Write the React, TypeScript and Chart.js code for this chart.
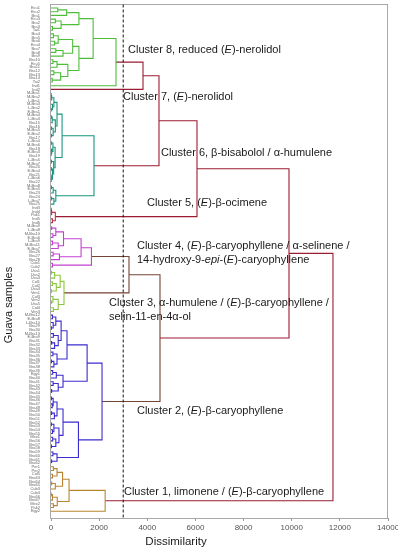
import React, { useEffect, useRef } from "react";
import { Chart, registerables } from "chart.js";

Chart.register(...registerables);

type Node = number | [number, Node, Node];

// ---------- leaf (sample) labels, top to bottom ----------
const labelsC8 = ["Ecu1","Ecu2","Bra1","Ecu3","Bra2","Bra3","Tai1","Bra4","Bra5","Bra6","Ecu4","Bra7","Bra8","Bra9","Bra10","Ecu5","Bra11","Bra12","Bra13","Bra14","Tai2","Ind1"];
const labelsC7 = ["Ind2"];
const labelsC6 = ["M-Bra1","M-Bra2","L-Bra1","M-Bra3","L-Bra2","E-Bra1","M-Bra4","L-Bra3","Bra15","Bra16","M-Bra5","E-Bra2","Bra17","L-Bra4","M-Bra6","Bra18","E-Bra3","Bra19","L-Bra5","M-Bra7","Bra20","E-Bra4","Bra21","L-Bra6","Bra22","M-Bra8","E-Bra5","Bra23","Bra24","L-Bra7","Bra25"];
const labelsC5 = ["Ind3","Ind4","Pak1","Ind5","Ind6"];
const labelsC4 = ["M-Bra9","L-Bra8","M-Bra10","E-Bra6","L-Bra9","M-Bra11","E-Bra7","Bra26","Bra27","Bra28","Cub1","Cub2"];
const labelsC3 = ["Usa1","Usa2","Usa3","Col1","Col2","Usa4","Ven1","Col3","Ven2","Usa5","Col4","Ven3"];
const labelsC2 = ["M-Bra12","E-Bra8","L-Bra10","Bra29","Bra30","M-Bra13","E-Bra9","Bra31","Bra32","Bra33","Bra34","Bra35","Bra36","Bra37","Bra38","Bra39","Egy1","Bra40","Bra41","Bra42","Bra43","Bra44","Bra45","Bra46","Bra47","Bra48","Bra49","Bra50","Bra51","Bra52","Bra53","Bra54","Bra55","Mex1","Bra56","Bra57","Bra58","Bra59","Bra60","Bra61","Bra62"];
const labelsC1 = ["Per1","Per2","Col5","Bra63","Bra64","Bra65","Cub3","Cub4","Bra66","Bra67","Mex2","Pak2","Egy2"];

const leafLabels = [
  ...labelsC8, ...labelsC7, ...labelsC6, ...labelsC5,
  ...labelsC4, ...labelsC3, ...labelsC2, ...labelsC1,
];

// ---------- cluster trees: [dissimilarity, left, right]; numbers are leaf indices ----------
const cluster8: Node = [2700,
  [1750,
    [1160, [650, [280, 0, 1], 2], [420, [180, 3, 4], [60, 5, 6]]],
    [1160,
      [900, [300, [100, 7, 8], [150, 9, 10]], [500, [200, 11, 12], 13]],
      [700, [250, [80, 14, 15], 16], [400, [120, 17, 18], [50, 19, 20]]]]],
  21];
const cluster7: Node = 22;
const cluster6: Node = [1786,
  [460,
    [250, [120, [40, [10, 23, 24], 25], [60, 26, [15, 27, 28]]], [180, [50, [20, 29, 30], 31], [90, [30, 32, 33], [25, 34, 35]]]],
    [170, [80, [20, 36, 37], [40, 38, [10, 39, 40]]], [110, [30, 41, 42], [60, [20, 43, 44], [15, [5, 45, 46], 47]]]]],
  [200, [90, [30, 48, 49], 50], [120, [40, 51, 52], 53]]];
const cluster5: Node = [180, [40, [10, 54, 55], 56], [60, 57, 58]];
const cluster4: Node = [1680,
  [1250,
    [520, [200, [40, 59, 60], [80, 61, 62]], [300, [60, 63, 64], 65]],
    [350, [90, 66, 67], 68]],
  [60, 69, 70]];
const cluster3: Node = [540,
  [380, [150, [40, 71, 72], 73], [220, [60, 74, 75], [30, 76, 77]]],
  [300, [80, 78, [20, 79, 80]], [100, 81, 82]]];
const cluster2: Node = [2120,
  [1500,
    [665,
      [420, [200, [60, 83, 84], [90, 85, [20, 86, 87]]], [300, [100, 88, 89], [150, [40, 90, 91], 92]]],
      [250, [80, 93, 94], [120, [30, 95, 96], 97]]],
    [500, [220, [70, 98, 99], 100], [300, [90, 101, 102], [40, 103, 104]]]],
  [1140,
    [500,
      [250, [90, [30, 105, 106], [50, 107, 108]], [140, [40, 109, 110], 111]],
      [330, [120, [20, 112, 113], [60, 114, 115]], [200, [70, 116, 117], [30, 118, 119]]]],
    [250, [80, 120, 121], [40, 122, 123]]]];
const cluster1: Node = [2250,
  [750,
    [480, [250, [100, 124, 125], [60, 126, 127]], [180, [40, 128, 129], 130]],
    [260, [60, [15, 131, 132], 133], [100, 134, 135]]],
  136];

// ---------- joins between clusters (dissimilarity) ----------
const joinC8C7 = 3822;
const joinC6 = 4486;
const joinC5 = 6065;
const joinC4C3 = 3240;
const joinC2 = 4528;
const joinUpperLower = 9887;
const joinRoot = 11714;

const cutLine = 3000;
const xTickValues = [0, 2000, 4000, 6000, 8000, 10000, 12000, 14000];

const clusterNotes: { lines: string[]; x: number; y: number }[] = [
  { lines: ["Cluster 8, reduced (_E_)-nerolidol"], x: 3199, y: 11.35 },
  { lines: ["Cluster 7, (_E_)-nerolidol"], x: 2991, y: 24.05 },
  { lines: ["Cluster 6, β-bisabolol / α-humulene"], x: 4569, y: 39.2 },
  { lines: ["Cluster 5, (_E_)-β-ocimene"], x: 3988, y: 52.7 },
  { lines: ["Cluster 4, (_E_)-β-caryophyllene / α-selinene /", "14-hydroxy-9-_epi_-(_E_)-caryophyllene"], x: 3572, y: 64.3 },
  { lines: ["Cluster 3, α-humulene / (_E_)-β-caryophyllene /", "selin-11-en-4α-ol"], x: 2409, y: 79.7 },
  { lines: ["Cluster 2, (_E_)-β-caryophyllene"], x: 3572, y: 108.9 },
  { lines: ["Cluster 1, limonene / (_E_)-β-caryophyllene"], x: 3032, y: 130.8 },
];

const GREEN = "#4dbd3a";
const TEAL = "#17967f";
const RED = "#9b1d33";
const RED5 = "#c2304a";
const MAGENTA = "#c440d2";
const LIME = "#8dc63f";
const BLUE = "#3b2bd0";
const ORANGE = "#b8862f";
const BROWN = "#744535";
const FONT = '"Liberation Sans", Arial, sans-serif';

export default function App() {
  const ref = useRef<HTMLCanvasElement>(null);

  useEffect(() => {
    if (!ref.current) return;
    const buckets = new Map<string, any[]>();
    const add = (color: string, pts: any[]) => {
      if (!buckets.has(color)) buckets.set(color, []);
      buckets.get(color)!.push(...pts, { x: 0, y: null });
    };
    const link = (H: number, A: { y: number; h: number }, B: { y: number; h: number }, color: string) => {
      add(color, [
        { x: A.h, y: A.y }, { x: H, y: A.y }, { x: H, y: B.y }, { x: B.h, y: B.y },
      ]);
      return { y: (A.y + B.y) / 2, h: H };
    };
    const tree = (node: Node, color: string): { y: number; h: number } => {
      if (typeof node === "number") return { y: node, h: 0 };
      const [H, a, b] = node;
      return link(H, tree(a, color), tree(b, color), color);
    };

    const p8 = tree(cluster8, GREEN);
    const p7 = tree(cluster7, RED);
    const p6 = tree(cluster6, TEAL);
    const p5 = tree(cluster5, RED5);
    const p4 = tree(cluster4, MAGENTA);
    const p3 = tree(cluster3, LIME);
    const p2 = tree(cluster2, BLUE);
    const p1 = tree(cluster1, ORANGE);
    const w = link(joinC8C7, p8, p7, RED);
    const v = link(joinC6, w, p6, RED);
    const u = link(joinC5, v, p5, RED);
    const m = link(joinC4C3, p4, p3, BROWN);
    const l = link(joinC2, m, p2, BROWN);
    const xnode = link(joinUpperLower, u, l, RED);
    link(joinRoot, xnode, p1, RED);

    const datasets: any[] = [
      {
        data: [{ x: cutLine, y: -5 }, { x: cutLine, y: 145 }],
        borderColor: "#111", borderWidth: 1, borderDash: [3, 2],
        showLine: true, pointRadius: 0,
      },
    ];
    buckets.forEach((pts, color) => {
      datasets.push({
        data: pts, borderColor: color, borderWidth: 1.1, showLine: true,
        pointRadius: 0, spanGaps: false, fill: false,
      });
    });

    const annot = {
      id: "annot",
      beforeDatasetsDraw(chart: any) {
        const { ctx, chartArea: a } = chart;
        ctx.save();
        ctx.strokeStyle = "#a8a8a8";
        ctx.lineWidth = 1;
        ctx.strokeRect(Math.round(a.left) - 0.5, Math.round(a.top) + 0.5, Math.round(a.right - a.left), Math.round(a.bottom - a.top));
        ctx.restore();
      },
      afterDraw(chart: any) {
        const { ctx, scales } = chart;
        ctx.save();
        ctx.fillStyle = "#1a1a1a";
        ctx.textBaseline = "middle";
        ctx.textAlign = "left";
        const size = 11;
        clusterNotes.forEach((n) => {
          const x0 = scales.x.getPixelForValue(n.x);
          const y0 = scales.y.getPixelForValue(n.y);
          n.lines.forEach((line, li) => {
            let cx = x0;
            const cy = y0 + li * 14.5;
            line.split("_").forEach((part, i) => {
              ctx.font = `${i % 2 ? "italic " : ""}${size}px ${FONT}`;
              ctx.fillText(part, cx, cy);
              cx += ctx.measureText(part).width;
            });
          });
        });
        // axis titles
        ctx.font = `11.5px ${FONT}`;
        ctx.textAlign = "center";
        ctx.textBaseline = "alphabetic";
        ctx.fillText("Dissimilarity", 176, 545);
        ctx.translate(12, 305);
        ctx.rotate(-Math.PI / 2);
        ctx.font = `11px ${FONT}`;
        ctx.fillText("Guava samples", 0, 0);
        ctx.restore();
      },
    };

    const chart = new Chart(ref.current, {
      type: "scatter",
      data: { datasets },
      options: {
        responsive: false,
        animation: false,
        layout: { padding: { top: 4, right: 10, left: 0, bottom: 0 } },
        plugins: { legend: { display: false }, tooltip: { enabled: false } },
        scales: {
          x: {
            type: "linear", min: 0, max: 14000,
            afterBuildTicks: (s: any) => { s.ticks = xTickValues.map((value) => ({ value })); },
            ticks: { font: { size: 8, family: FONT }, color: "#555", padding: 2, maxRotation: 0, callback: (v: any) => String(v) },
            grid: { drawOnChartArea: false, tickLength: 3, color: "#999" },
            border: { display: false },
            afterFit: (s: any) => { s.height = 32; s.paddingRight = 0; s.paddingLeft = 0; },
          },
          y: {
            type: "linear", reverse: true, min: -1.08, max: 137.84,
            ticks: {
              stepSize: 1, autoSkip: false, font: { size: 4, family: FONT }, color: "#666", padding: 3,
              callback: (v: any) => {
                const i = Math.round(v);
                if (Math.abs(v - i) > 1e-6 || i < 0 || i >= leafLabels.length) return "";
                return leafLabels[i];
              },
            },
            grid: { display: false },
            border: { display: false },
            afterFit: (s: any) => { s.width = 51; s.paddingTop = 0; s.paddingBottom = 0; },
          },
        },
      },
      plugins: [annot],
    } as any);
    return () => chart.destroy();
  }, []);

  return (
    <div style={{ position: "absolute", left: 0, top: 0, width: 398, height: 550, background: "#fff" }}>
      <canvas ref={ref} width={398} height={550} />
    </div>
  );
}
